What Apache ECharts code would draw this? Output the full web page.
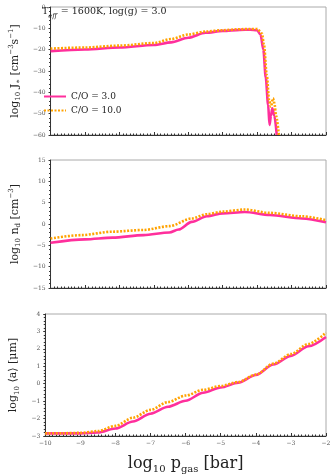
<!DOCTYPE html>
<html>
<head>
<meta charset="utf-8">
<script src="https://cdn.jsdelivr.net/npm/echarts@6/dist/echarts.min.js"></script>
<style>
  html, body { margin: 0; padding: 0; background: #fff; }
  #chart { width: 334px; height: 475px; }
</style>
</head>
<body>
<div id="chart"></div>
<script>
// series names
const seriesNames = ['C/O = 3.0', 'C/O = 10.0']
const colors = ['#ff2f9c', '#ffa200']

// panel 1: log10 J*  (x = log10 p_gas)
const jX_co3 = [-10, -9, -8, -7, -6.5, -6, -5.5, -5, -4.5, -4.2, -4.0, -3.9, -3.82, -3.75, -3.68, -3.64, -3.6, -3.56, -3.5, -3.43]
const jY_co3 = [-20.7, -19.9, -19.0, -17.8, -16.6, -14.4, -12.1, -11.2, -10.7, -10.6, -10.9, -13, -20, -33, -46, -55.3, -51, -47.5, -51, -60]
const jX_co10 = [-10, -9, -8, -7, -6.5, -6, -5.5, -5, -4.5, -4.2, -4.0, -3.86, -3.8, -3.72, -3.65, -3.6, -3.54, -3.5, -3.45, -3.37]
const jY_co10 = [-19.5, -19.0, -18.1, -16.9, -15.0, -12.9, -11.5, -10.9, -10.4, -10.3, -10.3, -12.5, -18, -32, -44, -46.7, -42.8, -45, -51, -60]

// panel 2: log10 n_d
const nX_co3 = [-10, -9, -8.2, -7.3, -6.55, -6.28, -5.9, -5.46, -5.0, -4.36, -3.63, -2.7, -2.0]
const nY_co3 = [-4.4, -3.6, -3.2, -2.6, -2.0, -1.3, 0.5, 1.8, 2.5, 2.8, 2.1, 1.3, 0.4]
const nX_co10 = [-10, -9.1, -8.2, -7.3, -6.55, -5.9, -5.46, -5.0, -4.36, -3.63, -2.7, -2.0]
const nY_co10 = [-3.4, -2.6, -1.8, -1.4, -0.5, 1.3, 2.3, 2.9, 3.4, 2.6, 1.8, 0.9]

// panel 3: log10 <a>
const aX = [-10, -9.5, -9, -8.5, -8, -7.5, -7, -6.5, -6, -5.5, -5, -4.5, -4, -3.5, -3, -2.5, -2]
const aY_co3 = [-2.85, -2.85, -2.85, -2.8, -2.57, -2.17, -1.72, -1.32, -0.98, -0.52, -0.22, 0.06, 0.5, 1.1, 1.6, 2.15, 2.68]
const aY_co10 = [-2.85, -2.84, -2.82, -2.72, -2.42, -1.95, -1.5, -1.05, -0.68, -0.35, -0.13, 0.1, 0.52, 1.15, 1.7, 2.28, 2.93]

const xTicks = { min: -10, max: -2, interval: 1 }
const yRanges = [
  { min: -60, max: 0, interval: 10 },
  { min: -15, max: 15, interval: 5 },
  { min: -3, max: 4, interval: 1 }
]

const serif = "'DejaVu Serif', 'Liberation Serif', serif"
const pair = (xs, ys) => xs.map((x, i) => [x, ys[i]])
const minus = v => String(v).replace('-', '\u2212')

// measure text width so the title pieces sit next to each other
const ctx = document.createElement('canvas').getContext('2d')
const textWidth = (txt, font) => { ctx.font = font; return ctx.measureText(txt).width }

const grids = [
  { left: 35, right: 8, top: 7, height: 128 },
  { left: 35, right: 8, top: 160, height: 128 },
  { left: 35, right: 8, top: 314, height: 127 }
].map(g => Object.assign(g, { show: true, borderColor: '#aaa', borderWidth: 1 }))

const richName = {
  m: { fontFamily: serif, fontSize: 11, color: '#222', lineHeight: 14 },
  s: { fontFamily: serif, fontSize: 7, color: '#222', verticalAlign: 'bottom', lineHeight: 14 },
  u: { fontFamily: serif, fontSize: 7, color: '#222', verticalAlign: 'top', lineHeight: 12 }
}
const yNames = [
  '{m|log}{s|10}{m| J}{s|\u2217}{m| [cm}{u|\u22123}{m|s}{u|\u22121}{m|]}',
  '{m|log}{s|10}{m| n}{s|d}{m| [cm}{u|\u22123}{m|]}',
  '{m|log}{s|10}{m| \u27e8a\u27e9 [}{m|\u03bcm]}'
]

const xAxis = grids.map((g, i) => Object.assign({
  type: 'value',
  gridIndex: i,
  axisLine: { onZero: false, lineStyle: { color: '#333', width: 1 } },
  axisTick: { inside: true, length: 3, lineStyle: { color: '#333' } },
  minorTick: { show: true, splitNumber: 10, length: 1.5, lineStyle: { color: '#333' } },
  splitLine: { show: false },
  axisLabel: {
    show: i === 2, fontSize: 6, color: '#555', fontFamily: serif, margin: 4,
    formatter: minus
  },
  name: i === 2 ? '{m|log}{s|10}{m| p}{s|gas}{m| [bar]}' : '',
  nameLocation: 'middle',
  nameGap: 18,
  nameTextStyle: {
    rich: {
      m: { fontFamily: serif, fontSize: 16, color: '#222', lineHeight: 20 },
      s: { fontFamily: serif, fontSize: 10, color: '#222', verticalAlign: 'bottom', lineHeight: 18 }
    }
  }
}, xTicks))

const yAxis = yRanges.map((r, i) => Object.assign({
  type: 'value',
  gridIndex: i,
  axisLine: { show: true, onZero: false, lineStyle: { color: '#333', width: 1 } },
  axisTick: { inside: false, length: 2, lineStyle: { color: '#333' } },
  minorTick: { show: true, splitNumber: 5, length: 1.5, lineStyle: { color: '#333' } },
  splitLine: { show: false },
  axisLabel: { fontSize: 6, color: '#555', fontFamily: serif, margin: 5, formatter: minus },
  name: yNames[i],
  nameLocation: 'middle',
  nameRotate: 90,
  nameGap: 16,
  nameTextStyle: { rich: richName }
}, r))

const panels = [
  [pair(jX_co3, jY_co3), pair(jX_co10, jY_co10)],
  [pair(nX_co3, nY_co3), pair(nX_co10, nY_co10)],
  [pair(aX, aY_co3), pair(aX, aY_co10)]
]

const series = []
panels.forEach((p, i) => {
  p.forEach((data, k) => {
    series.push({
      name: seriesNames[k],
      type: 'line',
      xAxisIndex: i,
      yAxisIndex: i,
      data: data,
      symbol: 'none',
      smooth: 0.3,
      smoothMonotone: 'x',
      z: 2 + k,
      lineStyle: { color: colors[k], width: 2.6, type: k === 0 ? 'solid' : [2, 1.5] },
      itemStyle: { color: colors[k] }
    })
  })
})

// title pieces: T, subscript eff, rest (all baseline-aligned)
const fMain = "9.5px 'DejaVu Serif'"
const fSub = "italic 6.5px 'DejaVu Serif'"
const tx0 = 42, base = 17
const w1 = textWidth('T', fMain)
const w2 = textWidth('eff', fSub)
const titleParts = [
  { type: 'text', x: tx0, y: base, style: { text: 'T', font: fMain, fill: '#222', verticalAlign: 'bottom' } },
  { type: 'text', x: tx0 + w1, y: base + 2.5, style: { text: 'eff', font: fSub, fill: '#222', verticalAlign: 'bottom' } },
  { type: 'text', x: tx0 + w1 + w2 + 1, y: base, style: { text: ' = 1600K, log(g) = 3.0', font: fMain, fill: '#222', verticalAlign: 'bottom' } }
]

const chart = echarts.init(document.getElementById('chart'), null, { renderer: 'canvas' })
chart.setOption({
  animation: false,
  backgroundColor: '#fff',
  graphic: titleParts.map(t => Object.assign(t, { z: 10 })),
  legend: {
    data: seriesNames,
    orient: 'vertical',
    left: 38, top: 87,
    itemWidth: 22, itemHeight: 6, itemGap: 5,
    itemStyle: { opacity: 0 },
    textStyle: { fontFamily: serif, fontSize: 9, color: '#222' }
  },
  grid: grids,
  xAxis: xAxis,
  yAxis: yAxis,
  series: series
})
</script>
</body>
</html>
